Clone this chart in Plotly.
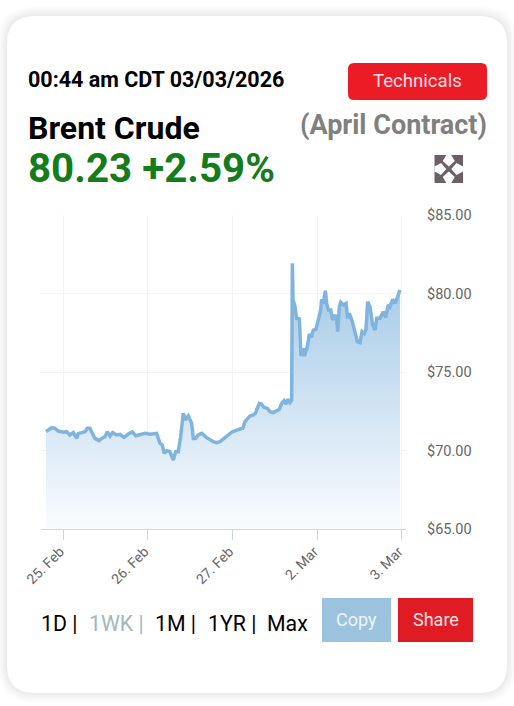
import plotly.graph_objects as go

W, H = 514, 706

# Price series: position in trading days after 25 Feb, then price in USD
zoom_a_x = [48,55,65,75,85,100,110,120,130,140,145,155,165,172,180,195,207,215,225,232,240,248,260,270,282,295,307,318,330,345,360,372,380,390,397,403,410,420,430,437,445,452,460,466,475,485,490,497,505,515,530,550,560,570]
zoom_a_y = [545,540,533,535,543,547,545,555,548,565,550,548,545,535,535,565,572,565,560,545,558,548,555,553,562,552,546,557,553,550,553,552,550,580,585,610,602,605,630,605,605,560,490,510,498,520,565,565,555,550,563,575,578,575]
zoom_b_x = [15,36,60,68,75,82,90,100,106,112,118,124,132,142,150,160,170,178,185,192,198,203,210,215,217,219,224,230,238,243,250,253,262,268,274,280,288,295,302,305,310,316,320,325,332,338,345,350,353,358,362,370,378,383,388,397,405,412,420,426,433,438,443,450,458,465,470,480,490,497,505,510,518,525,533,540]
zoom_b_y = [564,546,537,535,515,508,498,495,490,475,460,462,472,475,485,488,483,478,460,452,462,448,458,450,40,150,165,205,207,318,295,318,290,252,262,240,238,210,180,148,160,122,160,180,180,210,195,205,245,170,157,165,160,205,190,215,250,275,278,245,250,238,155,170,225,240,205,205,185,203,165,170,148,160,140,120]

days = [round(v/254.1-0.39, 3) for v in zoom_a_x] + [round(1.854+v/254.1, 3) for v in zoom_b_x]
prices = [round(82.77-v/47.1, 2) for v in zoom_a_y + zoom_b_y]

tick_days = [0, 1, 2, 3, 4]
tick_labels = ["25. Feb", "26. Feb", "27. Feb", "2. Mar", "3. Mar"]
price_ticks = [65, 70, 75, 80, 85]
price_labels = ["$65.00", "$70.00", "$75.00", "$80.00", "$85.00"]

FONT = "Roboto"
fx = lambda p: p / W
fy = lambda p: 1 - p / H

def rrect(x0, y0, x1, y1, r):
    a, b, c, d = fx(x0), fy(y0), fx(x1), fy(y1)
    rx, ry = r / W, r / H
    return (f"M{a+rx},{b} L{c-rx},{b} Q{c},{b} {c},{b-ry} L{c},{d+ry} Q{c},{d} {c-rx},{d} "
            f"L{a+rx},{d} Q{a},{d} {a},{d+ry} L{a},{b-ry} Q{a},{b} {a+rx},{b} Z")

shapes = []
# card shadow
for i, alpha in zip(range(10, 0, -2), [0.012, 0.012, 0.014, 0.016, 0.018]):
    shapes.append(dict(type="path", path=rrect(7-i, 16-i, 507+i, 693+i, 28+i), xref="paper", yref="paper",
                       fillcolor=f"rgba(0,0,0,{alpha})", line_width=0, layer="below"))
shapes.append(dict(type="path", path=rrect(7, 16, 507, 693, 28), xref="paper", yref="paper",
                   fillcolor="white", line_width=0, layer="below"))
# buttons
for box, col, r in [((348, 63, 487, 100), "#ec1c27", 6), ((322, 598, 391, 642), "#9bc3dd", 0), ((398, 598, 473, 642), "#df1c24", 0)]:
    shapes.append(dict(type="path", path=rrect(*box, max(r, 0.01)), xref="paper", yref="paper",
                       fillcolor=col, line_width=0, layer="below"))
# expand icon
ic = "#6c5f67"
shapes.append(dict(type="rect", xref="paper", yref="paper", x0=fx(434.5), x1=fx(463), y0=fy(155), y1=fy(183),
                   fillcolor=ic, line_width=0, layer="above"))
def poly(pts, col):
    return dict(type="path", xref="paper", yref="paper", fillcolor=col, line_width=0, layer="above",
                path="M" + " L".join(f"{fx(a)},{fy(b)}" for a, b in pts) + " Z")
cx, cy = 448.75, 169
shapes += [poly([(cx-2.5,155),(cx+2.5,155),(cx+6,161),(cx,cy-2.5),(cx-6,161)], "white"),
           poly([(cx-2.5,183),(cx+2.5,183),(cx+6,177),(cx,cy+2.5),(cx-6,177)], "white"),
           poly([(434.5,cy-2.5),(434.5,cy+2.5),(441,cy+6),(cx-2.5,cy),(441,cy-6)], "white"),
           poly([(463,cy-2.5),(463,cy+2.5),(456.5,cy+6),(cx+2.5,cy),(456.5,cy-6)], "white")]

def txt(x, y, s, size, color, bold=False, anchor="left"):
    return dict(xref="paper", yref="paper", x=fx(x), y=fy(y), xanchor=anchor, yanchor="middle", showarrow=False,
                text=f"<b>{s}</b>" if bold else s, align=anchor, borderpad=0, borderwidth=0,
                font=dict(family=FONT, size=size, color=color))

annotations = [
    txt(28, 79, "00:44 am CDT 03/03/2026", 21.5, "#000000", True),
    txt(417.5, 81, "Technicals", 18.6, "#fbdfe1", False, "center"),
    txt(28, 128, "Brent Crude", 32, "#000000", True),
    txt(487, 125, "(April Contract)", 27, "#808080", True, "right"),
    txt(28, 168, "80.23 +2.59%", 40.3, "#157c1b", True),
    txt(41, 623, "1D |", 21.3, "#000000"),
    txt(89, 623, "1WK |", 21.3, "#a3b7c0"),
    txt(155, 623, "1M |", 21.3, "#000000"),
    txt(208, 623, "1YR |", 21.3, "#000000"),
    txt(267, 623, "Max", 21.3, "#000000"),
    txt(356.5, 619, "Copy", 18, "#eef5f9", False, "center"),
    txt(435.5, 619, "Share", 18, "#fbe3e4", False, "center"),
]

fig = go.Figure(go.Scatter(
    x=days, y=prices, mode="lines", line=dict(color="#7fb4de", width=3.5), fill="tozeroy",
    fillgradient=dict(type="vertical", start=65, stop=82,
                      colorscale=[[0, "rgba(250,252,254,1)"], [1, "rgba(160,199,230,1)"]]),
    hoverinfo="skip", showlegend=False))

fig.update_layout(
    width=W, height=H, margin=dict(l=0, r=0, t=0, b=0), paper_bgcolor="#ffffff", plot_bgcolor="rgba(0,0,0,0)",
    shapes=shapes, annotations=annotations, font=dict(family=FONT),
    xaxis=dict(domain=[fx(41), fx(406)], range=[-0.26, 4.05], tickvals=tick_days, ticktext=tick_labels, tickangle=-45,
               automargin=False, ticklabelshift=-3, ticklabelstandoff=-2,
               showline=True, linecolor="#ccd6eb", linewidth=1, ticks="outside", ticklen=10, tickcolor="#ccd6eb",
               showgrid=True, gridcolor="#f3f4f5", gridwidth=1, zeroline=False,
               tickfont=dict(family=FONT, size=14, color="#666666")),
    yaxis=dict(domain=[fy(529), fy(215)], range=[65, 85], side="right", tickvals=price_ticks, ticktext=price_labels,
               automargin=False,
               showgrid=True, gridcolor="#f3f4f5", gridwidth=1, zeroline=False, showline=False, ticks="", ticklabelstandoff=20,
               tickfont=dict(family=FONT, size=14.5, color="#666666")),
)
fig.write_html("out.html", config=dict(displayModeBar=False),
               post_script="document.body.style.margin='0';document.body.style.overflow='hidden';")
